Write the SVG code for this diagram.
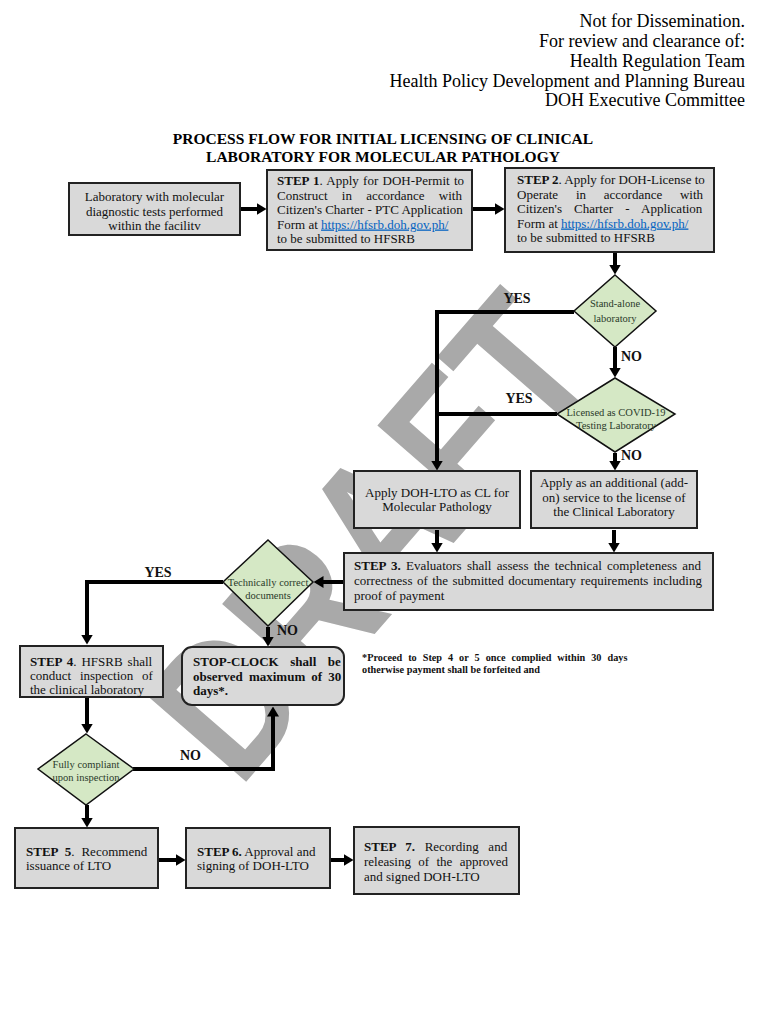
<svg xmlns="http://www.w3.org/2000/svg" width="768" height="1024" viewBox="0 0 768 1024">
<defs>
<marker id="ah" viewBox="0 0 10 12" markerWidth="10" markerHeight="12" refX="0.5" refY="6" orient="auto" markerUnits="userSpaceOnUse">
<path d="M0,0 L10,6 L0,12 z" fill="#000"/>
</marker>
<style>
.hdr{font-family:"Liberation Serif",serif;font-size:18px;fill:#000;text-anchor:end}
.ttl{font-family:"Liberation Serif",serif;font-size:15.5px;font-weight:bold;text-anchor:middle}
.box{fill:#d9d9d9;stroke:#222;stroke-width:2}
.dia{fill:#d5e8c5;stroke:#111;stroke-width:1.5}
.t{font-family:"Liberation Serif",serif;font-size:13px;fill:#111}
.c{text-anchor:middle}
.b{font-weight:bold}
.dt{font-family:"Liberation Serif",serif;font-size:10.5px;fill:#2a3a2a;text-anchor:middle}
.lab{font-family:"Liberation Serif",serif;font-size:14px;font-weight:bold;fill:#111}
.lnk{fill:#0563c1;text-decoration:underline}
.con{fill:none;stroke:#000;stroke-width:4;stroke-linejoin:miter}
.fn{font-family:"Liberation Serif",serif;font-size:10.25px;font-weight:bold;fill:#111}
</style>
</defs>
<rect width="768" height="1024" fill="#fff"/>

<g id="watermark">
<text transform="translate(368,535) rotate(-49)" x="-277" y="70" textLength="555" lengthAdjust="spacingAndGlyphs" font-family="Liberation Sans, Arial, sans-serif" font-size="196" font-weight="bold" fill="#a9a9a9">DRAFT</text>
</g>

<g id="header">
<text class="hdr" x="745" y="27">Not for Dissemination.</text>
<text class="hdr" x="745" y="47">For review and clearance of:</text>
<text class="hdr" x="745" y="67">Health Regulation Team</text>
<text class="hdr" x="745" y="87">Health Policy Development and Planning Bureau</text>
<text class="hdr" x="745" y="106">DOH Executive Committee</text>
<text class="ttl" x="383" y="144">PROCESS FLOW FOR INITIAL LICENSING OF CLINICAL</text>
<text class="ttl" x="383" y="162">LABORATORY FOR MOLECULAR PATHOLOGY</text>
</g>

<g id="connectors">
<path class="con" d="M240,209 H257" marker-end="url(#ah)"/>
<path class="con" d="M472,209 H495" marker-end="url(#ah)"/>
<path class="con" d="M615,252 V265" marker-end="url(#ah)"/>
<path class="con" d="M574,312 H437 V461" marker-end="url(#ah)"/>
<path class="con" d="M615,347 V368" marker-end="url(#ah)"/>
<path class="con" d="M557,414 H435"/>
<path class="con" d="M615,453 V461" marker-end="url(#ah)"/>
<path class="con" d="M437,530 V543" marker-end="url(#ah)"/>
<path class="con" d="M614,530 V543" marker-end="url(#ah)"/>
<path class="con" d="M344,582 H323" marker-end="url(#ah)"/>
<path class="con" d="M223,582 H87 V635" marker-end="url(#ah)"/>
<path class="con" d="M268,627 V637" marker-end="url(#ah)"/>
<path class="con" d="M87,697 V724" marker-end="url(#ah)"/>
<path class="con" d="M133,769 H273 V716" marker-end="url(#ah)"/>
<path class="con" d="M87,805 V818" marker-end="url(#ah)"/>
<path class="con" d="M158,860 H176" marker-end="url(#ah)"/>
<path class="con" d="M330,860 H344" marker-end="url(#ah)"/>
<text class="lab" x="517" y="303" text-anchor="middle">YES</text>
<text class="lab" x="621" y="361">NO</text>
<text class="lab" x="519" y="403" text-anchor="middle">YES</text>
<text class="lab" x="621" y="460">NO</text>
<text class="lab" x="158" y="577" text-anchor="middle">YES</text>
<text class="lab" x="277" y="635">NO</text>
<text class="lab" x="180" y="760">NO</text>
</g>

<g id="start">
<rect class="box" x="69" y="183" width="171" height="52"/>
<text class="t c" x="154.5" y="201">Laboratory with molecular</text>
<text class="t c" x="154.5" y="216">diagnostic tests performed</text>
<text class="t c" x="154.5" y="230">within the facilitv</text>
</g>

<g id="step1">
<rect class="box" x="267" y="170" width="205" height="80"/>
<text class="t" x="277" y="185" word-spacing="1"><tspan class="b">STEP 1</tspan>. Apply for DOH-Permit to</text>
<text class="t" x="277" y="199.5" word-spacing="11">Construct in accordance with</text>
<text class="t" x="277" y="214">Citizen's Charter - PTC Application</text>
<text class="t" x="277" y="228.5">Form at <tspan class="lnk">https://hfsrb.doh.gov.ph/</tspan></text>
<text class="t" x="277" y="243">to be submitted to HFSRB</text>
</g>

<g id="step2">
<rect class="box" x="505" y="168" width="209" height="84"/>
<text class="t" x="517" y="184"><tspan class="b">STEP 2</tspan>. Apply for DOH-License to</text>
<text class="t" x="517" y="198.5" word-spacing="14.5">Operate in accordance with</text>
<text class="t" x="517" y="213" word-spacing="8.9">Citizen's Charter - Application</text>
<text class="t" x="517" y="227.5">Form at <tspan class="lnk">https://hfsrb.doh.gov.ph/</tspan></text>
<text class="t" x="517" y="242">to be submitted to HFSRB</text>
</g>

<g id="standalone">
<polygon class="dia" points="615,275 656,311 615,347 574,311"/>
<text class="dt" x="615" y="307" font-size="11.5">Stand-alone</text>
<text class="dt" x="615" y="322" font-size="11.5">laboratory</text>
</g>

<g id="covid">
<polygon class="dia" points="615,378 675,414 615,452 557,414"/>
<text class="dt" x="616" y="416">Licensed as COVID-19</text>
<text class="dt" x="616" y="429">Testing Laboratory</text>
</g>

<g id="apply-cl">
<rect class="box" x="354" y="471" width="166" height="57"/>
<text class="t c" x="437" y="497">Apply DOH-LTO as CL for</text>
<text class="t c" x="437" y="511">Molecular Pathology</text>
</g>

<g id="apply-addon">
<rect class="box" x="531" y="471" width="166" height="57"/>
<text class="t c" x="614" y="487">Apply as an additional (add-</text>
<text class="t c" x="614" y="501.5">on) service to the license of</text>
<text class="t c" x="614" y="516">the Clinical Laboratory</text>
</g>

<g id="step3">
<rect class="box" x="344" y="553" width="369" height="57"/>
<text class="t" x="354" y="569.5" word-spacing="2"><tspan class="b">STEP 3.</tspan> Evaluators shall assess the technical completeness and</text>
<text class="t" x="354" y="584.5" word-spacing="1.2">correctness of the submitted documentary requirements including</text>
<text class="t" x="354" y="599.5">proof of payment</text>
</g>

<g id="techcorrect">
<polygon class="dia" points="268,540 313,582 268,626 223,582"/>
<text class="dt" x="268" y="586" font-size="10">Technically correct</text>
<text class="dt" x="268" y="599" font-size="10">documents</text>
</g>

<g id="step4">
<rect class="box" x="20" y="646" width="143" height="51"/>
<text class="t" x="30" y="665.5" word-spacing="1.7"><tspan class="b">STEP 4</tspan>. HFSRB shall</text>
<text class="t" x="30" y="679.5" word-spacing="5.5">conduct inspection of</text>
<text class="t" x="30" y="693.5">the clinical laboratory</text>
</g>

<g id="stopclock">
<rect class="box" x="182" y="647" width="162" height="58" rx="10" ry="10"/>
<text class="t b" x="193" y="666" word-spacing="8.3">STOP-CLOCK shall be</text>
<text class="t b" x="193" y="680.5" word-spacing="2.8">observed maximum of 30</text>
<text class="t b" x="193" y="695">days*.</text>
</g>

<g id="footnote">
<text class="fn" x="362" y="661" word-spacing="3.4">*Proceed to Step 4 or 5 once complied within 30 days</text>
<text class="fn" x="362" y="673">otherwise payment shall be forfeited and</text>
</g>

<g id="fullycompliant">
<polygon class="dia" points="86,734 134,769 86,805 38,769"/>
<text class="dt" x="86" y="768" font-size="10">Fully compliant</text>
<text class="dt" x="86" y="781" font-size="10">upon inspection</text>
</g>

<g id="step5">
<rect class="box" x="15" y="828" width="143" height="60"/>
<text class="t" x="26" y="856" word-spacing="3.7"><tspan class="b">STEP 5</tspan>. Recommend</text>
<text class="t" x="26" y="870">issuance of LTO</text>
</g>

<g id="step6">
<rect class="box" x="186" y="828" width="144" height="60"/>
<text class="t" x="197" y="856"><tspan class="b">STEP 6.</tspan> Approval and</text>
<text class="t" x="197" y="870">signing of DOH-LTO</text>
</g>

<g id="step7">
<rect class="box" x="354" y="827" width="165" height="67"/>
<text class="t" x="364" y="851" word-spacing="6.3"><tspan class="b">STEP 7.</tspan> Recording and</text>
<text class="t" x="364" y="866" word-spacing="4.1">releasing of the approved</text>
<text class="t" x="364" y="880.5">and signed DOH-LTO</text>
</g>
</svg>
